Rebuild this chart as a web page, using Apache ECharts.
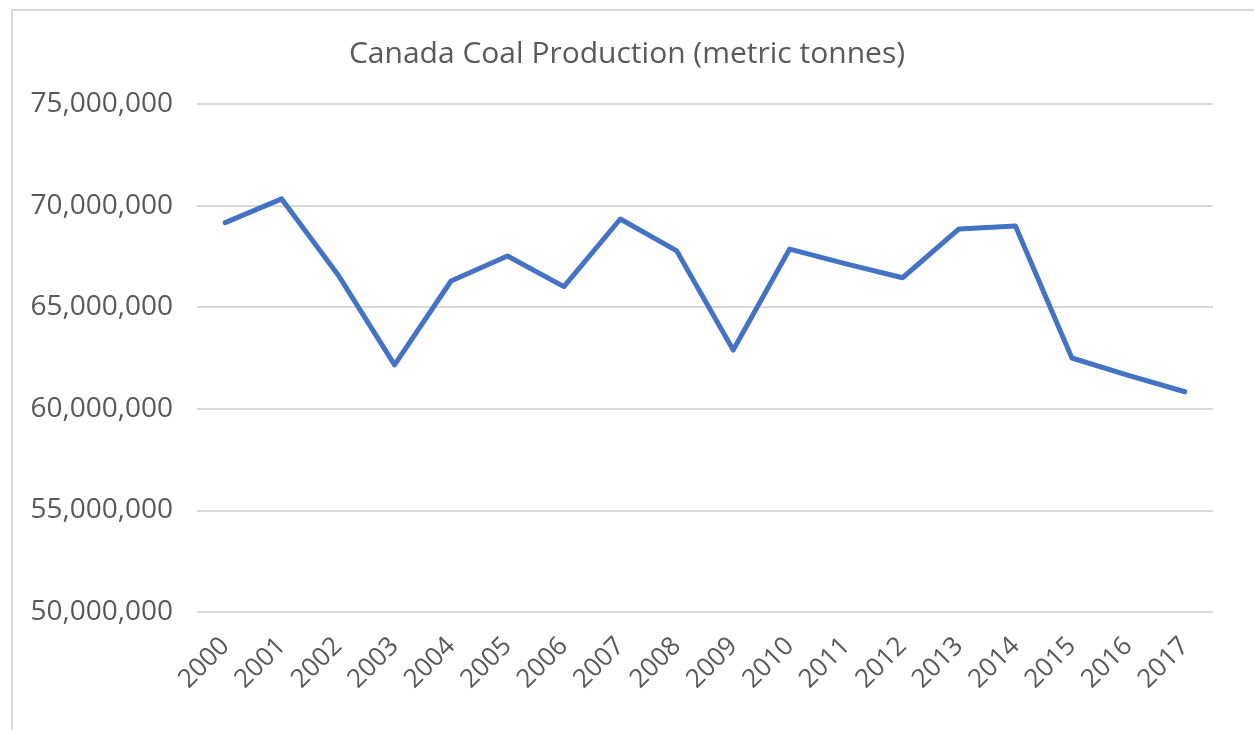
<!DOCTYPE html>
<html>
<head>
<meta charset="utf-8">
<title>Canada Coal Production</title>
<script src="https://cdn.jsdelivr.net/npm/echarts@6/dist/echarts.min.js"></script>
<style>
	html, body { margin: 0; padding: 0; background: #ffffff; }
	#main { width: 1254px; height: 730px; }
</style>
</head>
<body>
<div id="main"></div>
<script>
var years = ['2000', '2001', '2002', '2003', '2004', '2005', '2006', '2007', '2008',
	'2009', '2010', '2011', '2012', '2013', '2014', '2015', '2016', '2017'];
// metric tonnes
var production = [69160000, 70330000, 66590000, 62160000, 66290000, 67520000, 66010000,
	69340000, 67770000, 62890000, 67860000, 67130000, 66450000, 68850000, 69000000,
	62500000, 61650000, 60840000];
var yTicks = { min: 50000000, max: 75000000, step: 5000000 };

var textFont = '"Open Sans", "Liberation Sans", sans-serif';
var textGray = '#595959';

var chart = echarts.init(document.getElementById('main'));
chart.setOption({
	animation: false,
	title: {
		text: 'Canada Coal Production (metric tonnes)',
		left: 'center',
		top: 34,
		textStyle: {
			fontFamily: textFont,
			fontSize: 30,
			fontWeight: 'normal',
			color: textGray
		}
	},
	// chart area border, as in the spreadsheet
	graphic: [{
		type: 'polyline',
		shape: { points: [[12, 740], [12, 10], [1264, 10]] },
		style: { stroke: '#d9d9d9', lineWidth: 2, fill: null }
	}],
	grid: {
		left: 197,
		right: 41,
		top: 104,
		bottom: 118,
		containLabel: false
	},
	xAxis: {
		type: 'category',
		data: years,
		boundaryGap: true,
		axisLine: { show: false },
		axisTick: { show: false },
		axisLabel: {
			rotate: 45,
			margin: 30,
			fontFamily: textFont,
			fontSize: 26,
			color: textGray
		}
	},
	yAxis: {
		type: 'value',
		min: yTicks.min,
		max: yTicks.max,
		interval: yTicks.step,
		axisLine: { show: false },
		axisTick: { show: false },
		axisLabel: {
			margin: 24,
			fontFamily: textFont,
			fontSize: 28,
			color: textGray,
			formatter: function(value) {
				return value.toLocaleString('en-US');
			}
		},
		splitLine: {
			lineStyle: { color: '#d9d9d9', width: 2 }
		}
	},
	series: [{
		name: 'Production',
		type: 'line',
		data: production,
		showSymbol: false,
		lineStyle: { color: '#4472c4', width: 5, cap: 'round', join: 'round' },
		itemStyle: { color: '#4472c4' }
	}]
});
</script>
</body>
</html>
